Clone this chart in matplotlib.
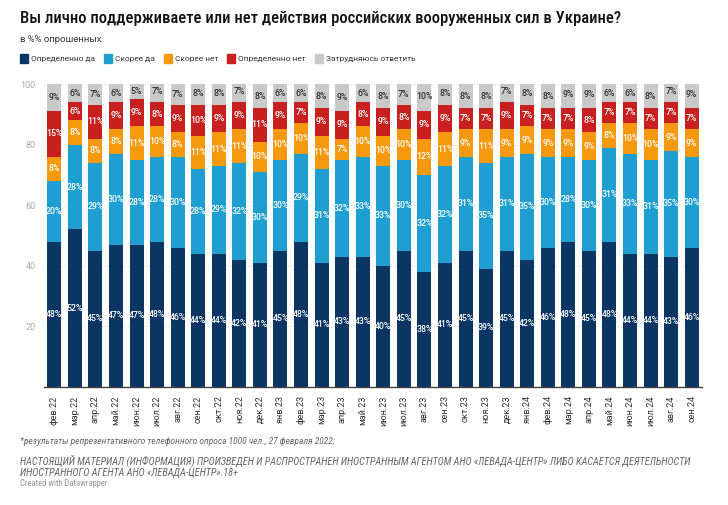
import numpy as np
import matplotlib.pyplot as plt
from matplotlib import font_manager
from matplotlib.patches import Rectangle

plt.rcParams['font.family'] = ['Roboto', 'DejaVu Sans']

# the original uses a condensed face; use one if there is one, else shrink Roboto
avail = {f.name for f in font_manager.fontManager.ttflist}
if 'Roboto Condensed' in avail:
    narrow, k = ['Roboto Condensed', 'DejaVu Sans'], 1.0
elif 'Liberation Sans Narrow' in avail:
    narrow, k = ['Liberation Sans Narrow', 'DejaVu Sans'], 1.0
else:
    narrow, k = ['Roboto', 'DejaVu Sans'], 0.78

months = ['фев.22', 'мар.22', 'апр.22', 'май.22', 'июн.22', 'июл.22', 'авг.22', 'сен.22',
          'окт.22', 'ноя.22', 'дек.22', 'янв.23', 'фев.23', 'мар.23', 'апр.23', 'май.23',
          'июн.23', 'июл.23', 'авг.23', 'сен.23', 'окт.23', 'ноя.23', 'дек.23', 'янв.24',
          'фев.24', 'мар.24', 'апр.24', 'май.24', 'июн.24', 'июл.24', 'авг.24', 'сен.24']

def_yes = [48, 52, 45, 47, 47, 48, 46, 44, 44, 42, 41, 45, 48, 41, 43, 43,
           40, 45, 38, 41, 45, 39, 45, 42, 46, 48, 45, 48, 44, 44, 43, 46]
rather_yes = [20, 28, 29, 30, 28, 28, 30, 28, 29, 32, 30, 30, 29, 31, 32, 33,
              33, 30, 32, 32, 31, 35, 31, 35, 30, 28, 30, 31, 33, 31, 35, 30]
rather_no = [8, 8, 8, 8, 11, 10, 8, 11, 11, 11, 10, 10, 10, 11, 7, 10,
             10, 10, 12, 11, 9, 11, 9, 9, 9, 9, 9, 8, 10, 10, 9, 9]
def_no = [15, 6, 11, 9, 9, 8, 9, 10, 9, 9, 11, 9, 7, 9, 9, 8,
          9, 8, 9, 9, 7, 7, 9, 7, 7, 7, 8, 7, 7, 7, 7, 7]
hard = [9, 6, 7, 6, 5, 7, 7, 8, 8, 7, 8, 6, 6, 8, 9, 6,
        8, 7, 10, 8, 8, 8, 7, 8, 8, 9, 9, 6, 6, 8, 7, 9]

series = [def_yes, rather_yes, rather_no, def_no, hard]
names = ['Определенно да', 'Скорее да', 'Скорее нет', 'Определенно нет', 'Затрудняюсь ответить']
colors = ['#0b3563', '#1f9fd1', '#f7990f', '#c8201f', '#c9c9c9']
text_colors = ['white', 'white', 'white', 'white', '#333333']

fig = plt.figure(figsize=(7.28, 5.05), dpi=100)
ax = fig.add_axes([44 / 728, 1 - 387 / 505, 658 / 728, 303 / 505])

x = np.arange(len(months))
bottom = np.zeros(len(months))
for vals, col, tcol in zip(series, colors, text_colors):
    vals = np.array(vals, dtype=float)
    ax.bar(x, vals, bottom=bottom, width=0.68, color=col, zorder=2)
    for xi, b, v in zip(x, bottom, vals):
        ax.text(xi, b + v / 2, f'{int(v)}%', ha='center', va='center',
                fontsize=6.3, color=tcol, fontweight='medium', zorder=3)
    bottom += vals

ax.set_xlim(-0.5, len(months) - 0.5)
ax.set_ylim(0, 100)
ax.set_yticks([20, 40, 60, 80, 100])
ax.set_yticklabels(['20', '40', '60', '80', '100'], fontsize=6.5, color='#aaaaaa')
ax.set_xticks(x)
ax.set_xticklabels(months, rotation=90, fontsize=6.5, color='#333333')
ax.tick_params(axis='both', length=0)
ax.tick_params(axis='y', pad=6)
ax.tick_params(axis='x', pad=6)
ax.grid(axis='y', color='#dddddd', linestyle=(0, (1, 2)), linewidth=0.8, zorder=0)
for s in ['top', 'right', 'left']:
    ax.spines[s].set_visible(False)
ax.spines['bottom'].set_color('#444444')
ax.spines['bottom'].set_linewidth(1.0)

fig.text(20 / 728, 1 - 18 / 505, 'Вы лично поддерживаете или нет действия российских вооруженных сил в Украине?',
         fontsize=12 * k, family=narrow, fontweight='medium', color='#111111', va='center', ha='left')
fig.text(20 / 728, 1 - 40 / 505, 'в %% опрошенных', fontsize=6.8, color='#333333',
         va='center', ha='left')

# legend: squares and labels laid out one after another
renderer = fig.canvas.get_renderer()
lx = 20
for name, col in zip(names, colors):
    fig.patches.append(Rectangle((lx / 728, 1 - 63 / 505), 8 / 728, 9 / 505,
                                 transform=fig.transFigure, color=col, figure=fig))
    t = fig.text((lx + 11) / 728, 1 - 58.5 / 505, name, fontsize=6.0,
                 color='#333333', va='center', ha='left')
    lx = t.get_window_extent(renderer).x1 + 9

fig.text(20 / 728, 1 - 441 / 505,
         '*результаты репрезентативного телефонного опроса 1000 чел., 27 февраля 2022;',
         fontsize=6.8 * k, family=narrow, style='italic', color='#666666', va='center', ha='left')
fig.text(20 / 728, 1 - 466 / 505,
         'НАСТОЯЩИЙ МАТЕРИАЛ (ИНФОРМАЦИЯ) ПРОИЗВЕДЕН И РАСПРОСТРАНЕН ИНОСТРАННЫМ АГЕНТОМ АНО «ЛЕВАДА-ЦЕНТР» ЛИБО КАСАЕТСЯ ДЕЯТЕЛЬНОСТИ\n'
         'ИНОСТРАННОГО АГЕНТА АНО «ЛЕВАДА-ЦЕНТР».18+',
         fontsize=7.4 * k, family=narrow, style='italic', color='#666666', va='center', ha='left',
         linespacing=1.15)
fig.text(20 / 728, 1 - 483 / 505, 'Created with Datawrapper', fontsize=6.2 * k, family=narrow,
         color='#999999', va='center', ha='left')

fig.savefig('out.png', dpi=100)
